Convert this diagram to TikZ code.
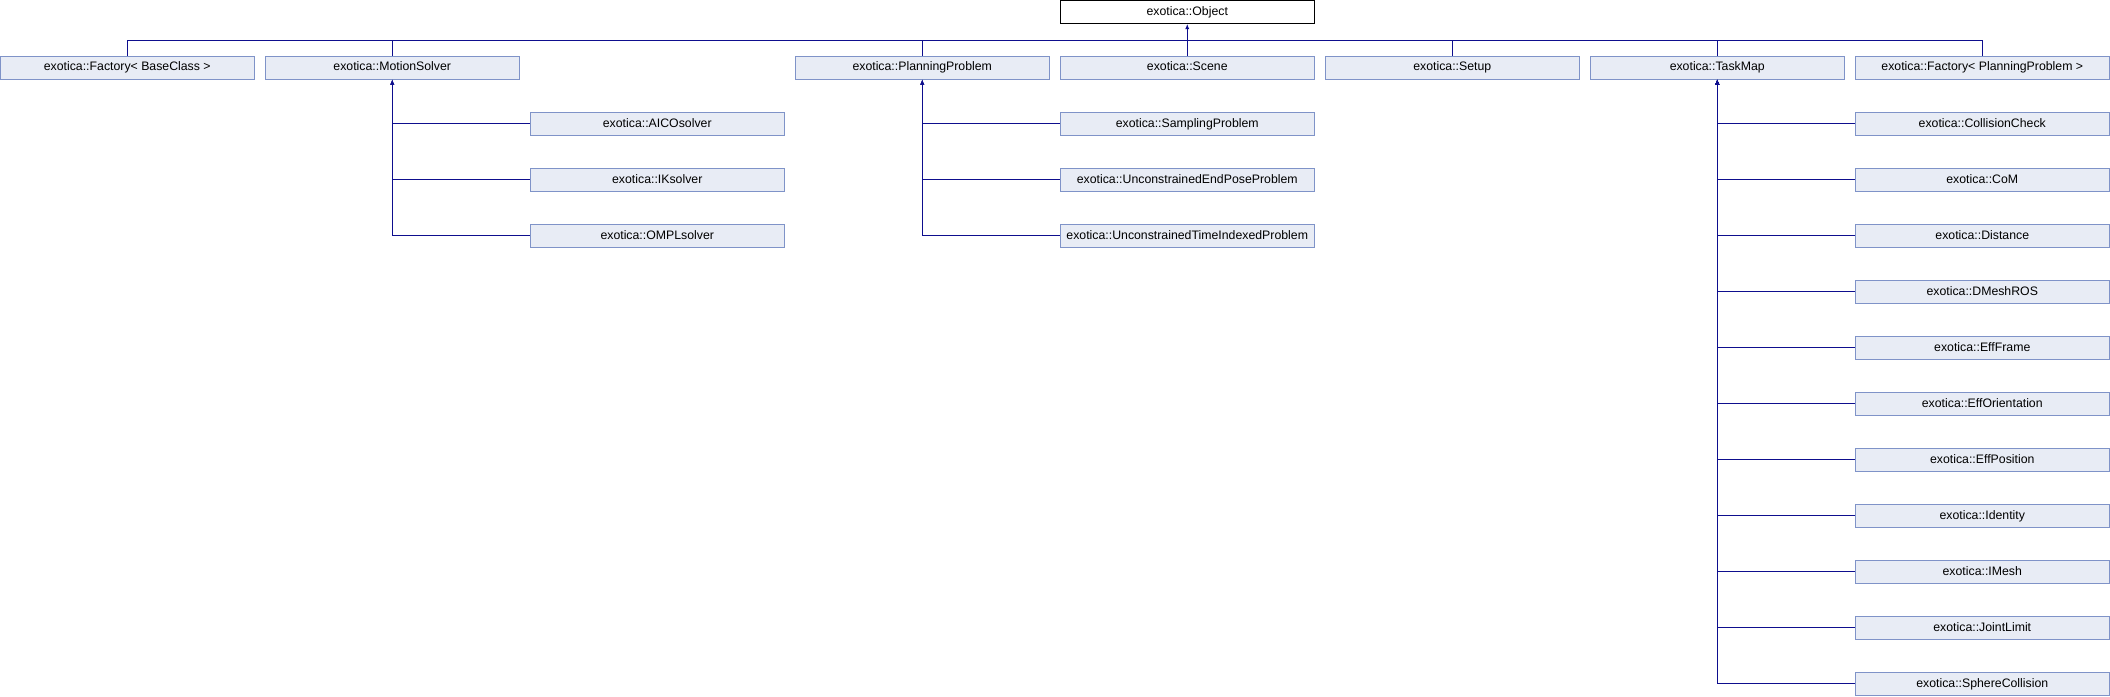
\documentclass[tikz,border=0pt]{standalone}
\usepackage{fontspec}
\setmainfont{Liberation Sans}
\usepackage{tikz}
\usetikzlibrary{arrows.meta}
\usepackage{xcolor}

\definecolor{edgeblue}{HTML}{0E0E8E}
\definecolor{boxfill}{HTML}{E8ECF5}
\definecolor{boxline}{HTML}{7F93C8}

\tikzset{
  cls/.style={draw=boxline, fill=boxfill, line width=0.25mm, minimum width=63.6mm, minimum height=5.75mm, inner sep=0pt, text height=6.4pt, text depth=1.8pt, font=\fontsize{8.75}{10}\selectfont},
  rootcls/.style={cls, draw=black, fill=white},
  inherit/.style={draw=edgeblue, line width=0.25mm},
  uptip/.style={{Latex[length=1.3mm,width=1.1mm]}-}
}

\begin{document}
\begin{tikzpicture}[x=0.25mm, y=-0.25mm]
    \useasboundingbox (0,0) rectangle (2110,696);

    % Base class at top
    \node[rootcls] (obj) at (1187.25,12) {exotica::Object};

    % Direct subclasses
    \node[cls] (fbase) at (127.25,67.5) {exotica::Factory< BaseClass >};
    \node[cls] (msolver) at (392.25,67.5) {exotica::MotionSolver};
    \node[cls] (pproblem) at (922.25,67.5) {exotica::PlanningProblem};
    \node[cls] (scene) at (1187.25,67.5) {exotica::Scene};
    \node[cls] (setup) at (1452.25,67.5) {exotica::Setup};
    \node[cls] (taskmap) at (1717.25,67.5) {exotica::TaskMap};
    \node[cls] (fpp) at (1982.25,67.5) {exotica::Factory< PlanningProblem >};

    % Bus up to the base class
    \coordinate (bus) at (1187.25,40.3);
    \draw[inherit] (fbase.north) |- (bus);
    \draw[inherit] (msolver.north) |- (bus);
    \draw[inherit] (pproblem.north) |- (bus);
    \draw[inherit] (scene.north) -- (bus);
    \draw[inherit] (setup.north) |- (bus);
    \draw[inherit] (taskmap.north) |- (bus);
    \draw[inherit] (fpp.north) |- (bus);
    \draw[inherit, -{Latex[length=1.3mm,width=1.1mm]}] (bus) -- (obj.south);

    % Motion solvers
    \node[cls] (aico) at (657.25,123.8) {exotica::AICOsolver};
    \node[cls] (iksolver) at (657.25,179.8) {exotica::IKsolver};
    \node[cls] (ompl) at (657.25,235.8) {exotica::OMPLsolver};
    \draw[inherit, uptip] (msolver.south) |- (aico.west);
    \draw[inherit, uptip] (msolver.south) |- (iksolver.west);
    \draw[inherit, uptip] (msolver.south) |- (ompl.west);

    % Planning problems
    \node[cls] (sampling) at (1187.25,123.8) {exotica::SamplingProblem};
    \node[cls] (endpose) at (1187.25,179.8) {exotica::UnconstrainedEndPoseProblem};
    \node[cls] (timeidx) at (1187.25,235.8) {exotica::UnconstrainedTimeIndexedProblem};
    \draw[inherit, uptip] (pproblem.south) |- (sampling.west);
    \draw[inherit, uptip] (pproblem.south) |- (endpose.west);
    \draw[inherit, uptip] (pproblem.south) |- (timeidx.west);

    % Task maps
    \node[cls] (collcheck) at (1982.25,123.8) {exotica::CollisionCheck};
    \node[cls] (com) at (1982.25,179.8) {exotica::CoM};
    \node[cls] (distance) at (1982.25,235.8) {exotica::Distance};
    \node[cls] (dmesh) at (1982.25,291.8) {exotica::DMeshROS};
    \node[cls] (effframe) at (1982.25,347.8) {exotica::EffFrame};
    \node[cls] (efforient) at (1982.25,403.8) {exotica::EffOrientation};
    \node[cls] (effpos) at (1982.25,459.8) {exotica::EffPosition};
    \node[cls] (identity) at (1982.25,515.8) {exotica::Identity};
    \node[cls] (imesh) at (1982.25,571.8) {exotica::IMesh};
    \node[cls] (jlimit) at (1982.25,627.8) {exotica::JointLimit};
    \node[cls] (spherecoll) at (1982.25,683.8) {exotica::SphereCollision};
    \foreach \child in {collcheck,com,distance,dmesh,effframe,efforient,effpos,identity,imesh,jlimit,spherecoll}
        \draw[inherit, uptip] (taskmap.south) |- (\child.west);
\end{tikzpicture}
\end{document}
